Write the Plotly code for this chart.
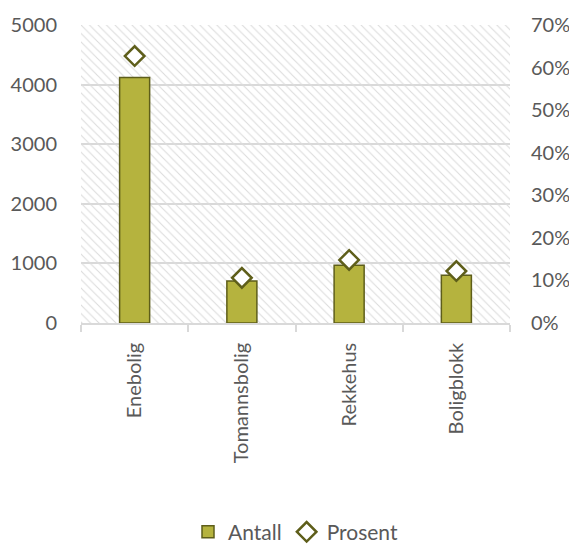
import plotly.graph_objects as go

categories = ["Enebolig", "Tomannsbolig", "Rekkehus", "Boligblokk"]
antall = [4120, 703, 970, 800]
prosent = [0.627, 0.106, 0.148, 0.122]

left_max = 5000
right_max = 0.7

bar_color = "#B5B33E"
dark = "#5E5E1A"
grid = "#D9D9D9"
text_col = "#595959"
font_family = "Lato, 'Open Sans', sans-serif"

fig = go.Figure()

# hatched plot-area background (decoration)
fig.add_trace(go.Bar(
    x=[categories[0]], y=[left_max], base=[0], width=[len(categories)], offset=-0.5,
    marker=dict(color="rgba(0,0,0,0)", line=dict(width=0),
                pattern=dict(shape="\\", fgcolor="#DCDCDC", bgcolor="rgba(0,0,0,0)",
                             size=6, solidity=0.18, fillmode="replace")),
    showlegend=False, hoverinfo="skip", xaxis="x", yaxis="y",
))

fig.add_trace(go.Bar(
    x=categories, y=antall, name="Antall", width=0.28,
    marker=dict(color=bar_color, line=dict(color=dark, width=1.5)),
    xaxis="x", yaxis="y",
))

fig.add_trace(go.Scatter(
    x=categories, y=prosent, name="Prosent", mode="markers",
    marker=dict(symbol="diamond", size=15, color="white", line=dict(color=dark, width=2.5)),
    xaxis="x", yaxis="y2",
))

fig.update_layout(
    width=577, height=560,
    margin=dict(l=73, r=75, t=17, b=245),
    paper_bgcolor="white", plot_bgcolor="white",
    barmode="overlay",
    font=dict(family=font_family, size=20, color=text_col),
    xaxis=dict(
        type="category", categoryorder="array", categoryarray=categories,
        range=[-0.5, len(categories) - 0.5], automargin=False,
        showline=True, linecolor=grid, linewidth=1.5,
        ticks="outside", tickson="boundaries", ticklen=7, tickcolor=grid, tickwidth=1.5,
        tickangle=-90, showgrid=False, tickfont=dict(size=20, color=text_col),
        ticklabelstandoff=10,
    ),
    yaxis=dict(
        range=[0, left_max], dtick=1000, showgrid=True, gridcolor=grid, gridwidth=1.5,
        zeroline=False, showline=False, tickfont=dict(size=20, color=text_col),
        automargin=False, ticklabelstandoff=23,
    ),
    yaxis2=dict(
        overlaying="y", side="right", range=[0, right_max], dtick=0.1, tickformat=".0%",
        showgrid=False, zeroline=False, showline=False, automargin=False,
        tickfont=dict(size=20, color=text_col), ticklabelstandoff=20,
    ),
    legend=dict(orientation="h", x=0.5, xanchor="center",
                yref="container", y=0.064, yanchor="middle",
                font=dict(size=21, color=text_col), itemwidth=30, tracegroupgap=0),
)

fig.write_html("out.html")
